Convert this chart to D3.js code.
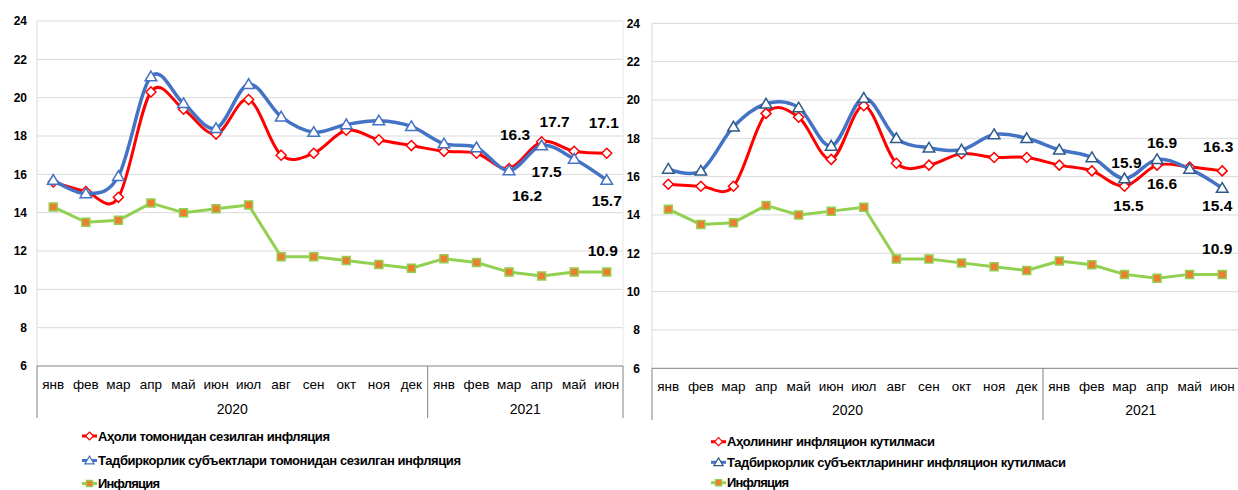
<!DOCTYPE html>
<html><head><meta charset="utf-8">
<script src="https://cdn.jsdelivr.net/npm/d3@7"></script>
<style>html,body{margin:0;padding:0;background:#fff;}svg{display:block;font-family:Arial,"Liberation Sans",sans-serif;}</style>
</head><body>
<svg id="chart" width="1238" height="490"></svg>
<script>
// ---- data ----
const months = ["янв","фев","мар","апр","май","июн","июл","авг","сен","окт","ноя","дек","янв","фев","мар","апр","май","июн"];
const years = ["2020","2021"];
const yearMonthCounts = [12, 6];
const yTicks = [6, 8, 10, 12, 14, 16, 18, 20, 22, 24];

const leftHouseholds = [15.6,15.1,14.8,20.3,19.4,18.1,19.9,17.0,17.1,18.3,17.8,17.5,17.2,17.1,16.3,17.7,17.2,17.1];
const leftBusiness   = [15.7,15.0,15.9,21.1,19.7,18.4,20.7,19.0,18.2,18.6,18.8,18.5,17.6,17.4,16.2,17.5,16.8,15.7];
const inflation      = [14.3,13.5,13.6,14.5,14.0,14.2,14.4,11.7,11.7,11.5,11.3,11.1,11.6,11.4,10.9,10.7,10.9,10.9];
const rightHouseholds= [15.6,15.5,15.5,19.3,19.1,16.9,19.7,16.7,16.6,17.2,17.0,17.0,16.6,16.3,15.5,16.6,16.5,16.3];
const rightBusiness  = [16.4,16.3,18.6,19.8,19.6,17.6,20.1,18.0,17.5,17.4,18.2,18.0,17.4,17.0,15.9,16.9,16.4,15.4];

const leftLegend  = ["Аҳоли томонидан сезилган инфляция","Тадбиркорлик субъектлари томонидан сезилган инфляция","Инфляция"];
const rightLegend = ["Аҳолининг инфляцион кутилмаси","Тадбиркорлик субъектларининг инфляцион кутилмаси","Инфляция"];

// ---- drawing ----
const svg = d3.select("#chart");
svg.append("rect").attr("width",1238).attr("height",490).attr("fill","#fff");

const RED="#FF0000", BLUE="#4472C4", GREEN="#92D050", ORANGE="#ED7D31";

function markerPath(kind){
  if(kind==="diamond") return "M0,-5L5,0L0,5L-5,0Z";
  if(kind==="triangle") return "M0,-5.5L5.8,4.2L-5.8,4.2Z";
  return "M-4,-4L4,-4L4,4L-4,4Z";
}

function drawChart(cfg){
  const g = svg.append("g");
  const x = d3.scaleBand().domain(d3.range(months.length)).range([cfg.left, cfg.right]).padding(0);
  const y = d3.scaleLinear().domain([6,24]).range([cfg.bottom, cfg.top]);
  const cx = i => x(i) + x.bandwidth()/2;

  // gridlines
  g.selectAll(".grid").data(yTicks.filter(t=>t>6)).enter().append("line")
    .attr("x1",cfg.left).attr("x2",cfg.right).attr("y1",d=>y(d)).attr("y2",d=>y(d))
    .attr("stroke","#d9d9d9").attr("stroke-width",1);
  // value axis line (faint)
  g.append("line").attr("x1",cfg.left).attr("x2",cfg.left).attr("y1",y(24)).attr("y2",y(6))
    .attr("stroke","#d9d9d9");
  if(cfg.rightBorder){
    g.append("line").attr("x1",cfg.right).attr("x2",cfg.right).attr("y1",y(24)).attr("y2",y(6))
      .attr("stroke","#e6e6e6");
  }
  // y tick labels
  g.selectAll(".ytl").data(yTicks).enter().append("text")
    .attr("x",cfg.yLabelX).attr("y",d=>y(d)).attr("dy","0.35em")
    .attr("text-anchor","end").attr("font-size",12).attr("font-weight","bold").attr("fill","#000")
    .text(d=>d);

  // category axis
  const axisY = y(6);
  g.append("line").attr("x1",cfg.left).attr("x2",cfg.right).attr("y1",axisY).attr("y2",axisY)
    .attr("stroke","#808080");
  const bounds=[0]; yearMonthCounts.forEach(c=>bounds.push(bounds[bounds.length-1]+c));
  bounds.forEach(b=>{
    const xx = b<months.length ? x(b) : cfg.right;
    g.append("line").attr("x1",xx).attr("x2",xx).attr("y1",axisY).attr("y2",cfg.axisBottom)
      .attr("stroke","#808080");
  });
  g.selectAll(".mtl").data(months).enter().append("text")
    .attr("x",(d,i)=>cx(i)).attr("y",cfg.monthY).attr("dy","0.35em")
    .attr("text-anchor","middle").attr("font-size",13.5).attr("fill","#000").text(d=>d);
  years.forEach((yr,k)=>{
    const a=x(bounds[k]), b = bounds[k+1]<months.length ? x(bounds[k+1]) : cfg.right;
    g.append("text").attr("x",(a+b)/2).attr("y",cfg.yearY).attr("dy","0.35em")
      .attr("text-anchor","middle").attr("font-size",14).attr("fill","#000").text(yr);
  });

  // series
  const series = [
    {vals:cfg.s1, color:RED, w:3, curve:d3.curveCardinal.tension(0), m:"diamond", mfill:"#fff", mstroke:RED},
    {vals:cfg.s2, color:BLUE, w:3.5, curve:d3.curveCardinal.tension(0), m:"triangle", mfill:"#fff", mstroke:cfg.triStroke},
    {vals:inflation, color:GREEN, w:3, curve:d3.curveLinear, m:"square", mfill:ORANGE, mstroke:GREEN}
  ];
  series.forEach(s=>{
    const line = d3.line().x((d,i)=>cx(i)).y(d=>y(d)).curve(s.curve);
    g.append("path").attr("d",line(s.vals)).attr("fill","none").attr("stroke",s.color)
      .attr("stroke-width",s.w).attr("stroke-linejoin","round").attr("stroke-linecap","round");
    g.selectAll(null).data(s.vals).enter().append("path")
      .attr("d",markerPath(s.m)).attr("transform",(d,i)=>`translate(${cx(i)},${y(d)})`)
      .attr("fill",s.mfill).attr("stroke",s.mstroke).attr("stroke-width",1.5);
  });

  // data labels
  const arrs = [cfg.s1, cfg.s2, inflation];
  cfg.labels.forEach(l=>{
    const v = arrs[l.s][l.i];
    g.append("text").attr("x",cx(l.i)+l.dx).attr("y",y(v)+l.dy).attr("dy","0.35em")
      .attr("text-anchor","middle").attr("font-size",15.5).attr("font-weight","bold").attr("fill","#000")
      .text(v.toFixed(1));
  });

  // legend
  const legendMarks = [
    {color:RED,m:"diamond",fill:"#fff",stroke:RED},
    {color:BLUE,m:"triangle",fill:"#fff",stroke:cfg.triStroke},
    {color:GREEN,m:"square",fill:ORANGE,stroke:GREEN}
  ];
  cfg.legend.forEach((name,k)=>{
    const ly = cfg.legendY[k], lm = legendMarks[k];
    g.append("line").attr("x1",cfg.legendX).attr("x2",cfg.legendX+15).attr("y1",ly).attr("y2",ly)
      .attr("stroke",lm.color).attr("stroke-width",3);
    g.append("path").attr("d",markerPath(lm.m)).attr("transform",`translate(${cfg.legendX+7.5},${ly}) scale(0.8)`)
      .attr("fill",lm.fill).attr("stroke",lm.stroke).attr("stroke-width",1.5);
    g.append("text").attr("x",cfg.legendX+16).attr("y",ly).attr("dy","0.35em")
      .attr("font-size",13).attr("font-weight","bold").attr("fill","#000")
      .attr("textLength",cfg.legendW[k]).attr("lengthAdjust","spacing").text(name);
  });
}

drawChart({
  left:37, right:623, top:21, bottom:366, yLabelX:27, axisBottom:418, monthY:384, yearY:409,
  s1:leftHouseholds, s2:leftBusiness, triStroke:"#4472C4", rightBorder:true,
  labels:[
    {s:0,i:14,dx:6,dy:-34},{s:0,i:15,dx:13,dy:-20},{s:0,i:17,dx:-3,dy:-31},
    {s:1,i:15,dx:5,dy:26},{s:1,i:14,dx:18,dy:25},{s:1,i:17,dx:0,dy:20},
    {s:2,i:17,dx:-4,dy:-22}
  ],
  legend:leftLegend, legendX:82, legendY:[436,460.5,483.5], legendW:[232,363,62]
});
drawChart({
  left:652, right:1238.5, top:23.3, bottom:368.3, yLabelX:640, axisBottom:420, monthY:386.5, yearY:410,
  s1:rightHouseholds, s2:rightBusiness, triStroke:"#2E5A87", rightBorder:false,
  labels:[
    {s:1,i:14,dx:2,dy:-16},{s:1,i:15,dx:5,dy:-17},{s:0,i:17,dx:-4,dy:-24},
    {s:0,i:15,dx:5,dy:18},{s:0,i:14,dx:4,dy:19},{s:1,i:17,dx:-5,dy:17},
    {s:2,i:17,dx:-5,dy:-26}
  ],
  legend:rightLegend, legendX:711, legendY:[441.7,462.3,482.7], legendW:[208,339,62]
});
</script>
</body></html>
